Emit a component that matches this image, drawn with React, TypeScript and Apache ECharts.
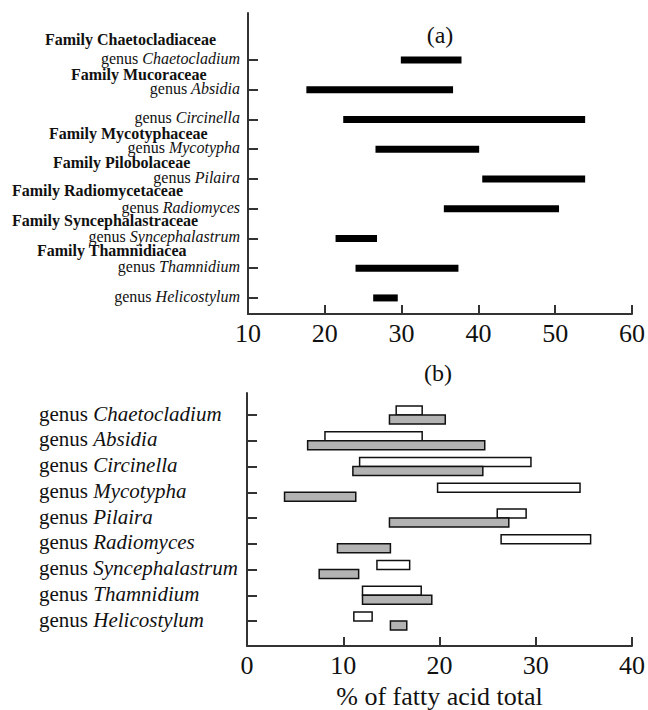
import React, { useEffect, useRef } from "react";
import * as echarts from "echarts";

const genera = [
  "Chaetocladium",
  "Absidia",
  "Circinella",
  "Mycotypha",
  "Pilaira",
  "Radiomyces",
  "Syncephalastrum",
  "Thamnidium",
  "Helicostylum",
];

const families = [
  "Family Chaetocladiaceae",
  "Family Mucoraceae",
  "Family Mycotyphaceae",
  "Family Pilobolaceae",
  "Family Radiomycetaceae",
  "Family Syncephalastraceae",
  "Family Thamnidiacea",
];

// panel (a) ranges
const aLow = [29.9, 17.6, 22.4, 26.6, 40.5, 35.5, 21.4, 24.0, 26.3];
const aHigh = [37.8, 36.7, 53.9, 40.1, 53.9, 50.5, 26.8, 37.4, 29.5];

// panel (b) ranges: white (upper) and grey (lower) boxes
const bWhiteLow = [15.5, 8.1, 11.7, 19.8, 26.0, 26.4, 13.5, 12.0, 11.1];
const bWhiteHigh = [18.2, 18.2, 29.5, 34.6, 29.0, 35.7, 16.9, 18.1, 13.0];
const bGreyLow = [14.8, 6.3, 11.0, 3.9, 14.8, 9.4, 7.5, 12.0, 14.9];
const bGreyHigh = [20.6, 24.7, 24.5, 11.3, 27.2, 14.9, 11.6, 19.2, 16.6];

const xTicksA = [10, 60, 10]; // min, max, interval
const xTicksB = [0, 40, 10];

// layout of family labels (left x px, center y px)
const familyPos = [
  [45, 39],
  [71, 74],
  [49, 133],
  [53, 162],
  [12, 190],
  [12, 220],
  [37, 250],
];

const SERIF = "'Liberation Serif', 'Times New Roman', serif";
const positions = genera.map((_, i) => i + 1);

export default function App() {
  const ref = useRef<HTMLDivElement>(null);

  useEffect(() => {
    if (!ref.current) return;
    const chart = echarts.init(ref.current, undefined, { renderer: "svg" });

    const dataA = genera.map((_, i) => [i + 1, aLow[i], aHigh[i]]);
    const dataBW = genera.map((_, i) => [i + 1, bWhiteLow[i], bWhiteHigh[i]]);
    const dataBG = genera.map((_, i) => [i + 1, bGreyLow[i], bGreyHigh[i]]);

    const axisLine = { show: true, onZero: false, lineStyle: { color: "#333", width: 2 } };

    const option: any = {
      animation: false,
      backgroundColor: "#fff",
      grid: [
        { left: 248, right: 15, top: 13, height: 301 },
        { left: 247, right: 16, top: 393, height: 261 },
      ],
      xAxis: [
        {
          gridIndex: 0,
          type: "value",
          min: xTicksA[0],
          max: xTicksA[1],
          interval: xTicksA[2],
          axisLine,
          axisTick: { show: true, inside: true, length: 9, lineStyle: { color: "#333", width: 2 } },
          axisLabel: { fontFamily: SERIF, fontSize: 26, color: "#111", margin: 6 },
          splitLine: { show: false },
        },
        {
          gridIndex: 1,
          type: "value",
          min: xTicksB[0],
          max: xTicksB[1],
          interval: xTicksB[2],
          axisLine,
          axisTick: { show: true, inside: true, length: 9, lineStyle: { color: "#333", width: 2 } },
          axisLabel: { fontFamily: SERIF, fontSize: 26, color: "#111", margin: 6 },
          splitLine: { show: false },
          name: "% of fatty acid total",
          nameLocation: "middle",
          nameGap: 37,
          nameTextStyle: { fontFamily: SERIF, fontSize: 26, color: "#111" },
        },
      ],
      yAxis: [
        {
          gridIndex: 0,
          type: "value",
          inverse: true,
          min: -0.58,
          max: 9.54,
          axisLine,
          splitLine: { show: false },
          axisTick: {
            show: true,
            inside: true,
            length: 10,
            customValues: positions,
            lineStyle: { color: "#333", width: 2 },
          },
          axisLabel: {
            customValues: positions,
            margin: 8,
            padding: [0, 0, 3, 0],
            formatter: (v: number) => `{g|genus }{i|${genera[Math.round(v) - 1]}}`,
            rich: {
              g: { fontFamily: SERIF, fontSize: 16, color: "#111" },
              i: { fontFamily: SERIF, fontSize: 16, color: "#111", fontStyle: "italic" },
            },
          },
        },
        {
          gridIndex: 1,
          type: "value",
          inverse: true,
          min: 0.146,
          max: 9.967,
          axisLine,
          splitLine: { show: false },
          axisTick: {
            show: true,
            inside: true,
            length: 10,
            customValues: positions,
            lineStyle: { color: "#333", width: 2 },
          },
          axisLabel: {
            customValues: positions,
            margin: 208,
            align: "left",
            padding: [0, 0, 3, 0],
            formatter: (v: number) => `{g|genus }{i|${genera[Math.round(v) - 1]}}`,
            rich: {
              g: { fontFamily: SERIF, fontSize: 21, color: "#111" },
              i: { fontFamily: SERIF, fontSize: 21, color: "#111", fontStyle: "italic" },
            },
          },
        },
      ],
      series: [
        {
          type: "custom",
          xAxisIndex: 0,
          yAxisIndex: 0,
          data: dataA,
          encode: { x: [1, 2], y: 0 },
          renderItem: (params: any, api: any) => {
            const p1 = api.coord([api.value(1), api.value(0)]);
            const p2 = api.coord([api.value(2), api.value(0)]);
            return {
              type: "rect",
              shape: { x: p1[0], y: p1[1] - 3.5, width: p2[0] - p1[0], height: 7 },
              style: { fill: "#000" },
            };
          },
        },
        {
          type: "custom",
          xAxisIndex: 1,
          yAxisIndex: 1,
          data: dataBW,
          encode: { x: [1, 2], y: 0 },
          renderItem: (params: any, api: any) => {
            const p1 = api.coord([api.value(1), api.value(0)]);
            const p2 = api.coord([api.value(2), api.value(0)]);
            return {
              type: "rect",
              shape: { x: p1[0], y: p1[1] - 9, width: p2[0] - p1[0], height: 9 },
              style: { fill: "#fff", stroke: "#111", lineWidth: 1.5 },
            };
          },
        },
        {
          type: "custom",
          xAxisIndex: 1,
          yAxisIndex: 1,
          data: dataBG,
          encode: { x: [1, 2], y: 0 },
          renderItem: (params: any, api: any) => {
            const p1 = api.coord([api.value(1), api.value(0)]);
            const p2 = api.coord([api.value(2), api.value(0)]);
            return {
              type: "rect",
              shape: { x: p1[0], y: p1[1], width: p2[0] - p1[0], height: 9 },
              style: { fill: "#b3b3b3", stroke: "#111", lineWidth: 1.5 },
            };
          },
        },
      ],
      graphic: [
        ...families.map((f, i) => ({
          type: "text",
          x: familyPos[i][0],
          y: familyPos[i][1],
          style: {
            text: f,
            fontFamily: SERIF,
            fontSize: 16,
            fontWeight: "bold",
            fill: "#111",
            align: "left",
            verticalAlign: "middle",
          },
        })),
        {
          type: "text",
          x: 440,
          y: 35,
          style: { text: "(a)", fontFamily: SERIF, fontSize: 24, fill: "#111", align: "center", verticalAlign: "middle" },
        },
        {
          type: "text",
          x: 438,
          y: 373,
          style: { text: "(b)", fontFamily: SERIF, fontSize: 24, fill: "#111", align: "center", verticalAlign: "middle" },
        },
      ],
    };

    chart.setOption(option);
    return () => chart.dispose();
  }, []);

  return (
    <div
      ref={ref}
      style={{ position: "absolute", left: 0, top: 0, width: 648, height: 710, background: "#fff" }}
    />
  );
}
